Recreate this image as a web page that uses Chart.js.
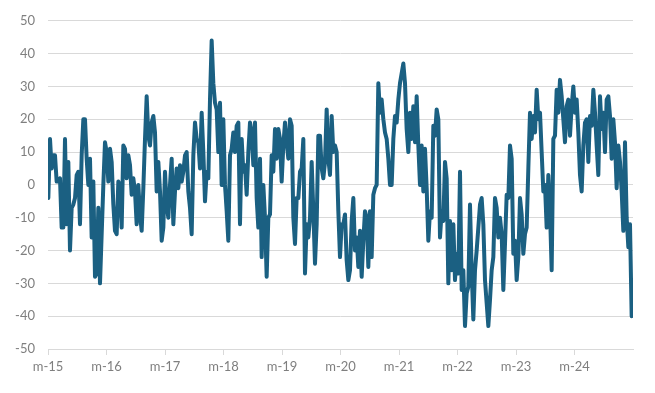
<!DOCTYPE html>
<html>
<head>
<meta charset="utf-8">
<script src="https://cdn.jsdelivr.net/npm/chart.js@4/dist/chart.umd.min.js"></script>
<style>
  body { margin: 0; background: #fff; }
  #wrap { width: 655px; height: 393px; }
</style>
</head>
<body>
<div id="wrap"><canvas id="myChart"></canvas></div>
<script>
// tick labels on the time axis (one per year, 2015..2024)
const yearLabels = ["m-15", "m-16", "m-17", "m-18", "m-19", "m-20", "m-21", "m-22", "m-23", "m-24"];
const firstYear = 2015;
const lastYear = 2025;
const yMin = -50;
const yMax = 50;
const yStep = 10;

// readings roughly every 1.5 weeks, starting early jan 2015
const step = 1 / 35.1;
const values = [
  // 2015
  -4, 14, 5, 9, 9, 1, 1, 2, -13, -13, 14, -12, 7, -20, -7, -6, -4, 3, 4, -12, 9, 20, 20, 8, 0, 8, -16, 1, -28, -27, -7, -30,
  // 2016 - early 2017
  -15, 0, 13, 10, 1, 11, 7, -6, -14, -15, 1, 0, -13, 12, 11, 2, 9, 6, -3, 2,
  -2, -12, 0, -9, -14, -1, 14, 27, 15, 12, 19, 21, 16, -2, 7, -2, -17, -13, 4, -6,
  -10, 0, 8, -12, -2, 5, -1, 6, 1, 4, 9, 10, -2, -7, -15, 9, 19, 14, 13, 5,
  // late 2017 - 2018
  22, 10, -5, 4, 2, 26, 44, 31, 25, 23, 10, 25, 0, 20, 0, -8, -17, 9, 11, 16,
  10, 18, 19, -12, 14, 4, 6, -3, 10, 19, 16, 6, 19, -4, -13, 8, -22, 0, -10, -28,
  -10, -9, 9, 4, 17, 8, 17, 14, 1, 12, 19, 13, 8, 20, 18, -10, -18, -4, -4, 4,
  // 2019 - 2020
  5, 14, -27, -12, -16, -10, 7, -8, -24, -12, 15, 15, 5, 2, 7, 23, 8, 3, 21, 10,
  12, 10, -8, -22, -12, -12, -9, -23, -29, -26, -11, -4, -20, -16, -25, -14, -28, -17, -8, -10,
  -25, -8, -22, -3, -1, 0, 31, 22, 26, 20, 16, 14, 8, 0, 0, 14, 21, 19, 26, 31,
  // 2021 - 2022
  34, 37, 31, 17, 10, 22, 14, 24, 13, 27, 12, 0, 12, -2, 11, -1, -17, -8, -10, 18,
  15, 23, 20, -16, -8, -11, 7, 2, -30, -11, -26, -12, -29, -21, -27, 4, -32, -26, -43, -33,
  -31, -6, -26, -41, -26, -20, -13, -6, -4, -12, -29, -36, -43, -35, -26, -22, -4, -7, -16, -10,
  // 2023 - 2024
  -15, -32, -18, -3, -4, 12, 8, -21, -17, -29, -22, -4, -9, -21, -15, -13, 5, 22, 14, 21,
  16, 29, 20, 22, 10, -2, 0, -13, 3, -8, -26, 14, 15, 29, 22, 32, 27, 20, 13, 24,
  26, 15, 24, 30, 22, 26, 16, 3, -2, 12, 19, 20, 7, 21, 18, 29, 22, 12, 3, 27,
  17, 22, 10, 26, 27, 21, 8, 20, 13, -1, 12, 7, -2, -14, 13, -10, -19, -12, -40, -38
];

const points = values.map(function (v, i) {
  return { x: firstYear + (0.2 + i) * step, y: v };
});

const gridGray = "#d9d9d9";
const textGray = "#7f7f7f";

const canva = document.getElementById("myChart");
const myChart = new Chart(canva.getContext("2d"), {
  type: "line",
  data: {
    datasets: [{
      data: points,
      borderColor: "#1b6082",
      borderWidth: 4,
      borderJoinStyle: "round",
      borderCapStyle: "round",
      pointRadius: 0,
      tension: 0,
      fill: false,
    }],
  },
  options: {
    responsive: true,
    maintainAspectRatio: false,
    animation: false,
    layout: { padding: { top: 20, right: 22, bottom: 0, left: 0 } },
    plugins: {
      legend: { display: false },
      tooltip: { enabled: false },
    },
    scales: {
      x: {
        type: "linear",
        min: firstYear,
        max: lastYear,
        afterFit: function (s) { s.height = 44; },
        border: { display: true, color: gridGray, width: 1 },
        grid: {
          drawOnChartArea: false,
          drawTicks: true,
          tickLength: 6,
          tickColor: function (ctx) {
            return ctx.tick && ctx.tick.value >= lastYear ? "rgba(0,0,0,0)" : gridGray;
          },
        },
        ticks: {
          stepSize: 1,
          autoSkip: false,
          maxRotation: 0,
          padding: 4,
          color: textGray,
          font: { family: "Lato", size: 13 },
          callback: function (v) {
            const k = Math.round(v) - firstYear;
            return k >= 0 && k < yearLabels.length ? yearLabels[k] : "";
          },
        },
      },
      y: {
        min: yMin,
        max: yMax,
        afterFit: function (s) { s.width = 48; },
        border: { display: false },
        grid: { color: gridGray, lineWidth: 1, drawTicks: false },
        ticks: {
          stepSize: yStep,
          padding: 13,
          color: textGray,
          font: { family: "Lato", size: 13 },
        },
      },
    },
  },
});
</script>
</body>
</html>
